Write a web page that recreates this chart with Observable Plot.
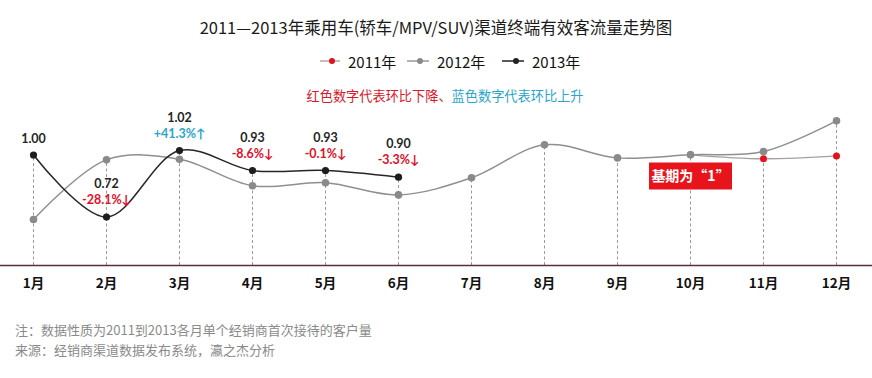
<!DOCTYPE html>
<html><head><meta charset="utf-8">
<script src="https://cdn.jsdelivr.net/npm/d3@7"></script>
<script src="https://cdn.jsdelivr.net/npm/@observablehq/plot@0.6"></script>
<style>
body{margin:0;background:#fff;width:872px;height:378px;overflow:hidden;position:relative;font-family:"Noto Sans CJK SC","Noto Sans",sans-serif;}
.t{position:absolute;left:0;width:872px;text-align:center;white-space:nowrap;}
#title{top:16px;font-size:16.5px;color:#1a1a1a;line-height:22px;}
#sub{top:86px;left:9px;font-size:13.2px;line-height:20px;}
.li{position:absolute;top:50px;height:22px;display:flex;align-items:center;font-size:15px;color:#111;font-family:"Noto Sans CJK SC",sans-serif;}
.li svg{margin-right:8px;}
#chart{position:absolute;left:0;top:108px;}
.foot{position:absolute;left:15px;font-size:13px;color:#8a8a8a;line-height:18px;white-space:nowrap;}
</style>
</head><body>
<div id="title" class="t">2011—2013年乘用车(轿车/MPV/SUV)渠道终端有效客流量走势图</div>
<div class="li" style="left:320px"><svg width="20" height="10"><line x1="0" y1="5" x2="20" y2="5" stroke="#b9a3a3" stroke-width="1.5"/><circle cx="12" cy="5" r="3" fill="#e0101e"/></svg>2011年</div>
<div class="li" style="left:407px"><svg width="22" height="10"><line x1="0" y1="5" x2="22" y2="5" stroke="#999" stroke-width="1.5"/><circle cx="13" cy="5" r="3" fill="#888"/></svg>2012年</div>
<div class="li" style="left:502px"><svg width="22" height="10"><line x1="0" y1="5" x2="22" y2="5" stroke="#222" stroke-width="1.5"/><circle cx="14" cy="5" r="3" fill="#222"/></svg>2013年</div>
<div id="sub" class="t"><span style="color:#d9182b">红色数字代表环比下降、</span><span style="color:#2aa5c9">蓝色数字代表环比上升</span></div>
<div id="chart"></div>
<div class="foot" style="top:321px">注：数据性质为2011到2013各月单个经销商首次接待的客户量</div>
<div class="foot" style="top:341px">来源：经销商渠道数据发布系统，瀛之杰分析</div>
<script>
const months = ["1月","2月","3月","4月","5月","6月","7月","8月","9月","10月","11月","12月"];
const v2011 = [null,null,null,null,null,null,null,null,null,1.001,0.983,0.996];
const v2012 = [0.709,0.978,0.981,0.861,0.875,0.820,0.897,1.046,0.987,1.001,1.016,1.154];
const v2013 = [1.00,0.72,1.02,0.93,0.93,0.90];
const lbl2013 = ["1.00","0.72","1.02","0.93","0.93","0.90"];
const pct2013 = [null,"-28.1%↓","+41.3%↑","-8.6%↓","-0.1%↓","-3.3%↓"];
const baseNote = "基期为“1”";

const yMin = 0.5013, yMax = 1.1647;
const toRows = (vals) => vals.map((v,i)=>({m:months[i], v})).filter(d=>d.v!=null);
const r2011 = toRows(v2011), r2012 = toRows(v2012), r2013 = toRows(v2013);
const tops = months.map((m,i)=>({m, top: Math.max(...[v2011[i],v2012[i],v2013[i]].filter(v=>v!=null))}));
const lblRows = r2013.map((d,i)=>({...d, lbl:lbl2013[i], pct:pct2013[i]}));
const pctRows = lblRows.filter(d=>d.pct);
const rectSymbol = {draw(ctx){ctx.rect(-41.5,-13.5,83,27);}};

const chart = Plot.plot({
  width: 872, height: 190,
  marginLeft: 33, marginRight: 36, marginTop: 10, marginBottom: 33,
  style: {fontFamily: "Lato, 'Noto Sans CJK SC', sans-serif", color: "#111", background: "transparent"},
  x: {type: "point", domain: months, padding: 0},
  y: {domain: [yMin, yMax], axis: null},
  marks: [
    Plot.ruleX(tops, {x: "m", y1: yMin, y2: "top", stroke: "#9a9a9a", strokeWidth: 1, strokeDasharray: "3,2.5"}),
    Plot.ruleY([yMin], {stroke: "#5a2d3c", strokeWidth: 1.6, insetLeft: -33, insetRight: -36}),
    Plot.axisX({tickSize: 0, tickPadding: 13, fontSize: 13.5, fontWeight: "bold", fontFamily: "'Noto Sans CJK SC', sans-serif", label: null}),
    Plot.line(r2011, {x: "m", y: "v", curve: "catmull-rom", stroke: "#a8a0a0", strokeWidth: 1.3}),
    Plot.line(r2012, {x: "m", y: "v", curve: "catmull-rom", stroke: "#8f8f8f", strokeWidth: 1.5}),
    Plot.line(r2013, {x: "m", y: "v", curve: "catmull-rom", stroke: "#262626", strokeWidth: 1.5}),
    Plot.dot(r2011, {x: "m", y: "v", r: 3.5, fill: "#e3121f"}),
    Plot.dot(r2012, {x: "m", y: "v", r: 3.8, fill: "#8a8a8a"}),
    Plot.dot(r2013, {x: "m", y: "v", r: 3.6, fill: "#1e1e1e"}),
    Plot.text(lblRows.slice(0, 1), {x: "m", y: "v", text: "lbl", fontWeight: "bold", fontSize: 12.5, fill: "#262626", dy: -16}),
    Plot.text(lblRows.slice(1), {x: "m", y: "v", text: "lbl", fontWeight: "bold", fontSize: 12.5, fill: "#262626", dy: -33}),
    Plot.text(pctRows, {x: "m", y: "v", text: "pct", fontWeight: "bold", fontSize: 12.5, dy: -17,
      fill: (d)=> d.pct.startsWith("+") ? "#2aa5c9" : "#e0102a"}),
    Plot.dot([{m: "10月", v: 0.905}], {x: "m", y: "v", symbol: rectSymbol, fill: "#e8141c", r: 1}),
    Plot.text([{m: "10月", v: 0.905, t: baseNote}], {x: "m", y: "v", text: "t", fill: "#fff", fontWeight: "bold", fontSize: 14, fontFamily: "'Noto Sans CJK SC', sans-serif"})
  ]
});
document.getElementById("chart").appendChild(chart);
</script>
</body></html>
